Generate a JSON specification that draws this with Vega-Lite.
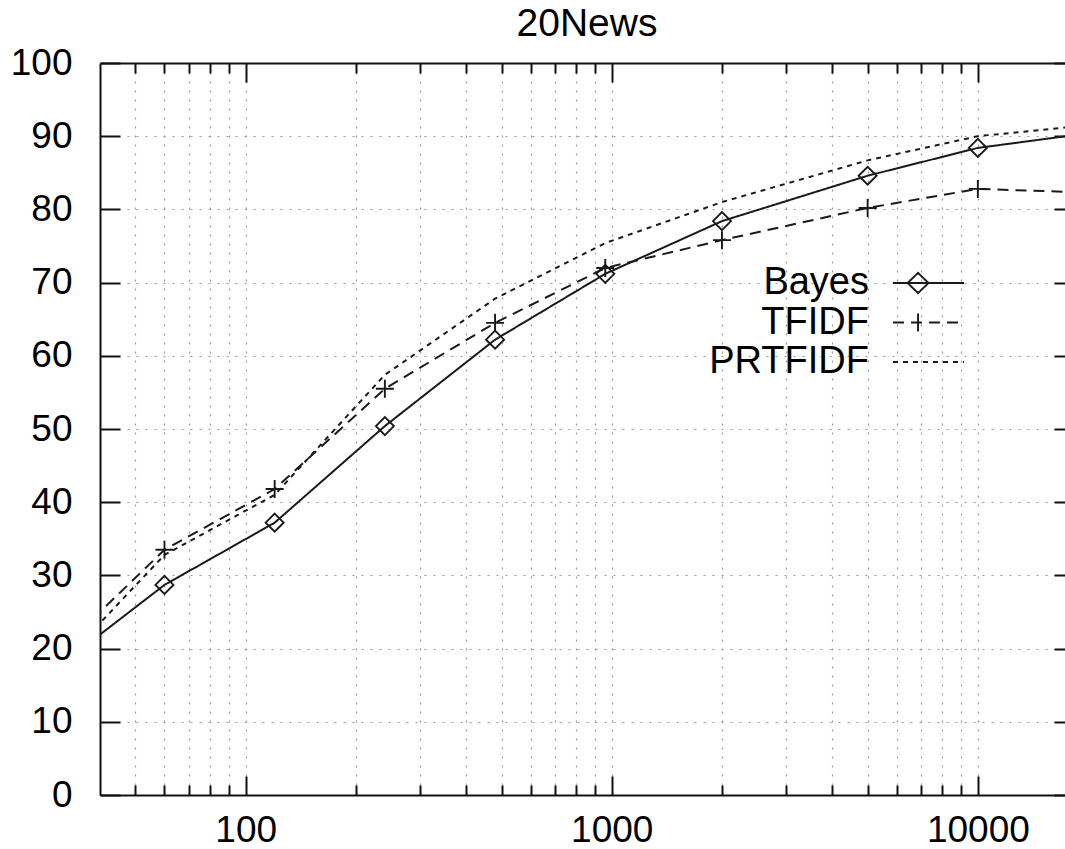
{
  "$schema": "https://vega.github.io/schema/vega-lite/v6.json",
  "width": 974,
  "height": 732,
  "autosize": {"type": "none"},
  "padding": {"left": 100, "top": 63, "right": -9, "bottom": 54},
  "background": "white",
  "title": {
    "text": "20News",
    "font": "Liberation Sans",
    "fontSize": 39,
    "fontWeight": "normal",
    "color": "#000",
    "anchor": "middle",
    "baseline": "bottom",
    "offset": 0,
    "dy": 39
  },
  "config": {
    "view": {"stroke": null},
    "axis": {
      "labelFont": "Liberation Sans",
      "labelFontSize": 37,
      "labelColor": "#000",
      "domainColor": "#111",
      "domainWidth": 2,
      "tickColor": "#111",
      "tickWidth": 2,
      "gridColor": "#999",
      "gridDash": [2, 7],
      "gridWidth": 1.2,
      "title": null
    }
  },
  "data": {
    "values": [
      {"method": "Bayes", "docs": 30, "acc": 17.1},
      {"method": "Bayes", "docs": 60, "acc": 28.7},
      {"method": "Bayes", "docs": 120, "acc": 37.2},
      {"method": "Bayes", "docs": 240, "acc": 50.4},
      {"method": "Bayes", "docs": 480, "acc": 62.2},
      {"method": "Bayes", "docs": 960, "acc": 71.2},
      {"method": "Bayes", "docs": 2000, "acc": 78.4},
      {"method": "Bayes", "docs": 5000, "acc": 84.6},
      {"method": "Bayes", "docs": 10000, "acc": 88.4},
      {"method": "Bayes", "docs": 20000, "acc": 90.4},
      {"method": "TFIDF", "docs": 30, "acc": 19.0},
      {"method": "TFIDF", "docs": 60, "acc": 33.5},
      {"method": "TFIDF", "docs": 120, "acc": 41.8},
      {"method": "TFIDF", "docs": 240, "acc": 55.5},
      {"method": "TFIDF", "docs": 480, "acc": 64.5},
      {"method": "TFIDF", "docs": 960, "acc": 72.0},
      {"method": "TFIDF", "docs": 2000, "acc": 75.8},
      {"method": "TFIDF", "docs": 5000, "acc": 80.2},
      {"method": "TFIDF", "docs": 10000, "acc": 82.8},
      {"method": "TFIDF", "docs": 20000, "acc": 82.3},
      {"method": "PRTFIDF", "docs": 30, "acc": 16.9},
      {"method": "PRTFIDF", "docs": 60, "acc": 32.8},
      {"method": "PRTFIDF", "docs": 120, "acc": 41.0},
      {"method": "PRTFIDF", "docs": 240, "acc": 57.4},
      {"method": "PRTFIDF", "docs": 480, "acc": 67.8},
      {"method": "PRTFIDF", "docs": 960, "acc": 75.4},
      {"method": "PRTFIDF", "docs": 2000, "acc": 81.0},
      {"method": "PRTFIDF", "docs": 5000, "acc": 86.7},
      {"method": "PRTFIDF", "docs": 10000, "acc": 90.0},
      {"method": "PRTFIDF", "docs": 20000, "acc": 91.5}
    ]
  },
  "resolve": {
    "axis": {"x": "independent", "y": "independent"},
    "scale": {"shape": "independent", "strokeDash": "independent"}
  },
  "layer": [
    {
      "mark": {"type": "line", "clip": true, "color": "#1a1a1a", "strokeWidth": 2},
      "encoding": {
        "x": {
          "field": "docs",
          "type": "quantitative",
          "scale": {"type": "log", "domain": [40, 18310], "nice": false},
          "axis": {
            "orient": "bottom",
            "values": [50, 60, 70, 80, 90, 100, 200, 300, 400, 500, 600, 700, 800, 900, 1000, 2000, 3000, 4000, 5000, 6000, 7000, 8000, 9000, 10000],
            "format": "d",
            "labelExpr": "indexof([100, 1000, 10000], datum.value) >= 0 ? datum.label : ''",
            "labelOverlap": false,
            "labelFlush": false,
            "labelPadding": 36,
            "tickSize": {"condition": {"test": "indexof([100, 1000, 10000], datum.value) >= 0", "value": -19}, "value": -10},
            "grid": true
          }
        },
        "y": {
          "field": "acc",
          "type": "quantitative",
          "scale": {"domain": [0, 100], "nice": false},
          "axis": {
            "orient": "left",
            "values": [0, 10, 20, 30, 40, 50, 60, 70, 80, 90, 100],
            "tickSize": -20,
            "labelPadding": 48,
            "grid": true
          }
        },
        "strokeDash": {
          "field": "method",
          "type": "nominal",
          "scale": {"domain": ["Bayes", "TFIDF", "PRTFIDF"], "range": [[1, 0], [11, 7], [5, 5]]},
          "legend": null
        }
      }
    },
    {
      "transform": [{"filter": "datum.method !== 'PRTFIDF'"}],
      "mark": {"type": "point", "clip": true, "filled": false, "color": "#1a1a1a", "strokeWidth": 1.9, "size": 324, "opacity": 1},
      "encoding": {
        "x": {
          "field": "docs",
          "type": "quantitative",
          "scale": {"type": "log", "domain": [40, 18310], "nice": false},
          "axis": {
            "orient": "top",
            "values": [50, 60, 70, 80, 90, 100, 200, 300, 400, 500, 600, 700, 800, 900, 1000, 2000, 3000, 4000, 5000, 6000, 7000, 8000, 9000, 10000],
            "labels": false,
            "grid": false,
            "tickSize": {"condition": {"test": "indexof([100, 1000, 10000], datum.value) >= 0", "value": -19}, "value": -10}
          }
        },
        "y": {
          "field": "acc",
          "type": "quantitative",
          "scale": {"domain": [0, 100], "nice": false},
          "axis": {
            "orient": "right",
            "values": [0, 10, 20, 30, 40, 50, 60, 70, 80, 90, 100],
            "labels": false,
            "grid": false,
            "tickSize": -20
          }
        },
        "shape": {
          "field": "method",
          "type": "nominal",
          "scale": {"domain": ["Bayes", "TFIDF"], "range": ["diamond", "M-1,0H1M0,-1V1"]},
          "legend": null
        }
      }
    },
    {
      "transform": [{"filter": "false"}],
      "mark": {"type": "point", "filled": false, "color": "#1a1a1a", "strokeWidth": 1.9},
      "encoding": {
        "x": {"field": "docs", "type": "quantitative", "scale": {"type": "log", "domain": [40, 18310], "nice": false}, "axis": null},
        "y": {"field": "acc", "type": "quantitative", "scale": {"domain": [0, 100], "nice": false}, "axis": null},
        "shape": {
          "field": "method",
          "type": "nominal",
          "scale": {
            "domain": ["Bayes", "TFIDF", "PRTFIDF"],
            "range": [
              "M-1.87,0H1.87M-1.1,0L-0.55,-0.53L0,0L-0.55,0.53Z",
              "M-1.87,0H1.87M-0.55,0V-0.47M-0.55,0V0.47",
              "M-1.87,0H1.87"
            ]
          },
          "legend": {
            "orient": "none",
            "legendX": 808.5,
            "legendY": 200,
            "title": null,
            "padding": 0,
            "labelFont": "Liberation Sans",
            "labelFontSize": 38,
            "labelColor": "#000",
            "labelAlign": "right",
            "labelOffset": -79.5,
            "symbolSize": 1444,
            "symbolOpacity": 1,
            "symbolStrokeWidth": 1.9,
            "symbolStrokeColor": "#1a1a1a",
            "symbolFillColor": "transparent",
            "rowPadding": 0.5
          }
        },
        "strokeDash": {
          "field": "method",
          "type": "nominal",
          "scale": {"domain": ["Bayes", "TFIDF", "PRTFIDF"], "range": [[1, 0], [11, 7], [5, 5]]},
          "legend": {
            "orient": "none",
            "legendX": 808.5,
            "legendY": 200,
            "title": null,
            "padding": 0,
            "labelFont": "Liberation Sans",
            "labelFontSize": 38,
            "labelColor": "#000",
            "labelAlign": "right",
            "labelOffset": -79.5,
            "symbolSize": 1444,
            "symbolOpacity": 1,
            "symbolStrokeWidth": 1.9,
            "symbolStrokeColor": "#1a1a1a",
            "symbolFillColor": "transparent",
            "rowPadding": 0.5
          }
        }
      }
    }
  ]
}
